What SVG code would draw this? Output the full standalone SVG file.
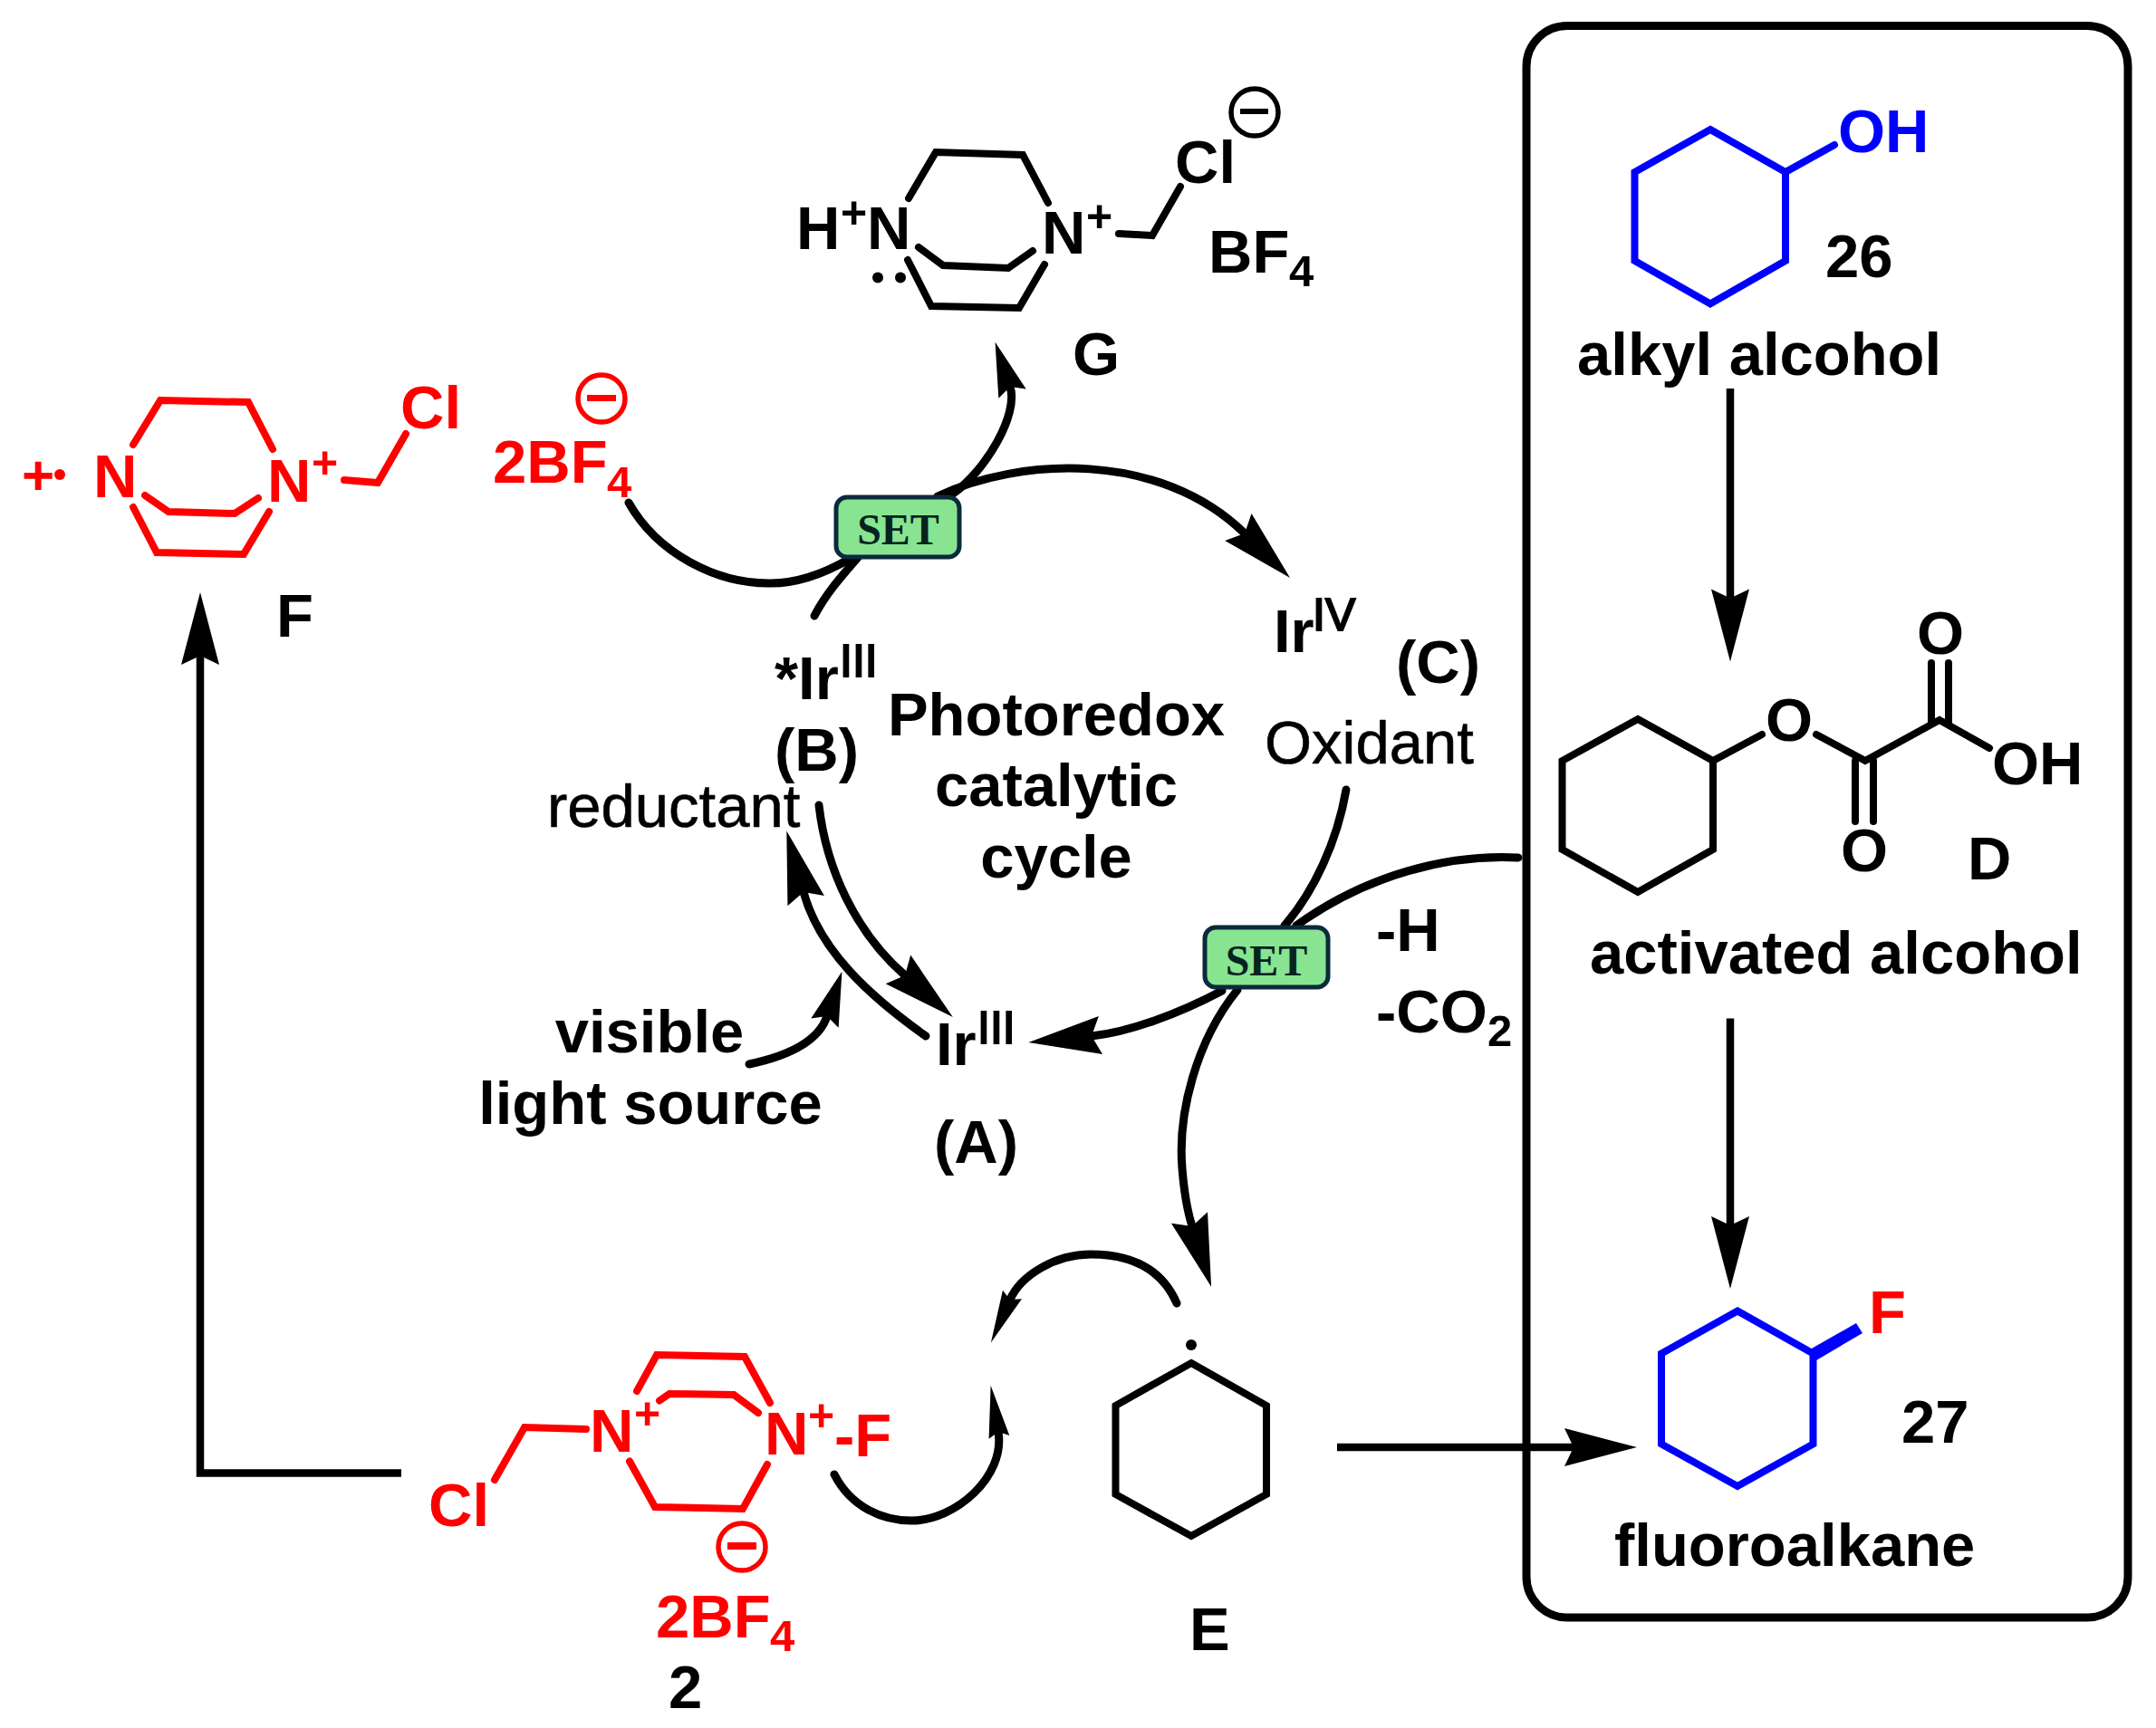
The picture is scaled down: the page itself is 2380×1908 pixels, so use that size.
<svg xmlns="http://www.w3.org/2000/svg" width="2380" height="1908" viewBox="0 0 2380 1908">
<style>
text{font-family:"Liberation Sans",Arial,sans-serif}
.b{font-weight:700;font-size:67px}
.l{font-weight:700;font-size:67px}
.r{font-weight:400;font-size:67px;stroke:#000;stroke-width:.6px}
.sub{font-weight:700;font-size:49px}
.sup{font-weight:700;font-size:50px}
.ox{font-weight:400;font-size:50px;stroke:#000;stroke-width:2px}
.set{font-family:"Liberation Serif","Times New Roman",serif;font-weight:700;font-size:48px;fill:#05231f;text-anchor:middle}
.red{fill:#ff0000}
.blue{fill:#0000ff}
.bond{fill:none;stroke:#000;stroke-width:8;stroke-linecap:round;stroke-linejoin:miter}
.bond.rd{stroke:#ff0000}
.bond.bl{stroke:#0000ff}
.ring{fill:none;stroke:#000;stroke-width:8;stroke-linejoin:miter}
.ring.bl{stroke:#0000ff}
.curve{fill:none;stroke:#000;stroke-width:9;stroke-linecap:round}
.line{fill:none;stroke:#000;stroke-width:8.5}
.setbox{fill:#88e490;stroke:#0b2a3b;stroke-width:5}
.chg{fill:none;stroke-width:5.5}
</style>
<defs>
<marker id="large" markerUnits="userSpaceOnUse" markerWidth="80" markerHeight="42" refX="10" refY="21" orient="auto" overflow="visible"><path d="M0,0 L80,21 L0,42 L10,21Z" fill="#000"/></marker>
<marker id="medium" markerUnits="userSpaceOnUse" markerWidth="60" markerHeight="32" refX="8" refY="16" orient="auto" overflow="visible"><path d="M0,0 L60,16 L0,32 L8,16Z" fill="#000"/></marker>
<marker id="small" markerUnits="userSpaceOnUse" markerWidth="58" markerHeight="23" refX="6" refY="11.5" orient="auto" overflow="visible"><path d="M0,0 L58,11.5 L0,23 L6,11.5Z" fill="#000"/></marker>
</defs>
<rect width="2380" height="1908" fill="#fff"/>

<g id="connectors">
<path class="line" d="M443,1626.5 L221,1626.5 L221,724" marker-end="url(#large)"/>
<path class="line" d="M1910,429 L1910,660.6" marker-end="url(#large)"/>
<path class="line" d="M1910,1124.5 L1910,1353" marker-end="url(#large)"/>
<path class="line" d="M1476,1598 L1737,1598" marker-end="url(#large)"/>
<path class="curve" d="M694,555 C725,610 790,645 851,644 C880,644 912,632 938,617"/>
<path class="curve" d="M899,680 C912,655 930,635 950,612"/>
<path class="curve" d="M1052,545 C1088,520 1125,457 1115,427" marker-end="url(#medium)"/>
<path class="curve" d="M1035,548 C1125,505 1280,497 1374,589" marker-end="url(#large)"/>
<path class="curve" d="M904,889 C912,960 945,1030 999,1077" marker-end="url(#large)"/>
<path class="curve" d="M1022,1144 C960,1100 905,1050 887,985" marker-end="url(#large)"/>
<path class="curve" d="M827,1175 C865,1167 903,1152 913,1122" marker-end="url(#medium)"/>
<path class="curve" d="M1486,872 C1476,930 1450,985 1418,1022"/>
<path class="curve" d="M1676,947 C1600,943 1510,965 1431,1022"/>
<path class="curve" d="M1349,1094 C1300,1120 1245,1140 1205,1144" marker-end="url(#large)"/>
<path class="curve" d="M1366,1093 C1320,1150 1300,1230 1305,1290 C1307,1315 1310,1335 1316,1354" marker-end="url(#large)"/>
<path class="curve" d="M1299,1439 C1280,1395 1240,1385 1204,1385 C1165,1385 1127,1408 1115,1435" marker-end="url(#small)"/>
<path class="curve" d="M921,1628 C940,1665 975,1679 1006,1679 C1055,1679 1110,1630 1102,1581" marker-end="url(#small)"/>
</g>

<g id="box-outer"><rect x="1685" y="28.5" width="664" height="1757.5" rx="45" ry="45" fill="none" stroke="#000" stroke-width="9"/></g>

<g id="set-1"><rect class="setbox" x="923" y="549" width="136" height="66" rx="12"/><text class="set" x="991.5" y="601">SET</text></g>
<g id="set-2"><rect class="setbox" x="1330" y="1024" width="136" height="66" rx="12"/><text class="set" x="1398" y="1077">SET</text></g>

<g id="node-F">
<text class="red" font-weight="700" font-size="62" x="24" y="546">+</text>
<circle cx="66" cy="524" r="6" fill="#ff0000"/>
<path class="bond rd" d="M147,491 L177,442 L274,444 L301,496"/>
<path class="bond rd" d="M160,547 L186,565 L259,567 L285,550"/>
<path class="bond rd" d="M147,560 L173,610 L269,612 L297,565"/>
<path class="bond rd" d="M380,530 L417,533 L448,479"/>
<text class="b red" x="103" y="549">N</text>
<text class="b red" x="295" y="554">N<tspan class="sup" x="344" y="528">+</tspan></text>
<text class="b red" x="442" y="473">Cl</text>
<ellipse class="chg" stroke="#ff0000" cx="664" cy="440" rx="26" ry="26"/>
<rect x="648" y="436" width="32" height="7" fill="#ff0000"/>
<text class="b red" x="544" y="533">2BF<tspan class="sub" x="670" y="549">4</tspan></text>
<text class="b" x="305" y="703">F</text>
</g>

<g id="node-G">
<path class="bond" d="M1003,219 L1033,168 L1129,171 L1157,224"/>
<path class="bond" d="M1014,273 L1041,293 L1113,296 L1140,277"/>
<path class="bond" d="M1002,287 L1028,338 L1125,340 L1153,292"/>
<path class="bond" d="M1235,258 L1272,260 L1303,206"/>
<text class="b" x="879" y="275">H<tspan class="sup" x="928" y="252">+</tspan><tspan x="957" y="275">N</tspan></text>
<text class="b" x="1150" y="280">N<tspan class="sup" x="1199" y="256">+</tspan></text>
<text class="b" x="1297" y="202">Cl</text>
<ellipse class="chg" stroke="#000" cx="1385" cy="124" rx="26" ry="26"/>
<rect x="1369" y="120" width="31" height="6" fill="#000"/>
<text class="b" x="1334" y="301">BF<tspan class="sub" x="1423" y="316">4</tspan></text>
<circle cx="969" cy="306.5" r="6"/>
<circle cx="994" cy="306.5" r="6"/>
<text class="b" x="1184" y="414">G</text>
</g>

<g id="node-B">
<text class="b" x="855" y="772">*Ir<tspan class="ox" x="927" y="747">III</tspan></text>
<text class="b" x="855" y="851">(B)</text>
</g>
<g id="node-reductant"><text class="r" x="604" y="913">reductant</text></g>
<g id="node-cycle">
<text class="l" x="1166" y="812" text-anchor="middle">Photoredox</text>
<text class="l" x="1166" y="890" text-anchor="middle">catalytic</text>
<text class="l" x="1166" y="969" text-anchor="middle">cycle</text>
</g>
<g id="node-C">
<text class="b" x="1406" y="720">Ir<tspan class="ox" x="1449" y="696">IV</tspan></text>
<text class="b" x="1541" y="754">(C)</text>
</g>
<g id="node-oxidant"><text class="r" x="1396" y="843">Oxidant</text></g>
<g id="node-loss">
<text class="b" x="1519" y="1050">-H</text>
<text class="b" x="1519" y="1140">-CO<tspan class="sub" x="1642" y="1155">2</tspan></text>
</g>
<g id="node-A">
<text class="b" x="1033" y="1176">Ir<tspan class="ox" x="1079" y="1152">III</tspan></text>
<text class="b" x="1031" y="1284">(A)</text>
</g>
<g id="node-light">
<text class="b" x="717" y="1162" text-anchor="middle">visible</text>
<text class="b" x="718" y="1241" text-anchor="middle">light source</text>
</g>

<g id="node-2">
<path class="bond rd" d="M546,1634 L579,1576 L647,1578"/>
<path class="bond rd" d="M703,1536 L725,1496 L822,1498 L850,1549"/>
<path class="bond rd" d="M728,1546.5 L739,1539 L810,1540 L837,1560"/>
<path class="bond rd" d="M695,1613.5 L723,1664 L820,1666 L847,1617"/>
<text class="b red" x="473" y="1685">Cl</text>
<text class="b red" x="651" y="1603">N<tspan class="sup" x="700" y="1578">+</tspan></text>
<text class="b red" x="844" y="1606">N<tspan class="sup" x="892" y="1580">+</tspan><tspan x="921" y="1608">-F</tspan></text>
<ellipse class="chg" stroke="#ff0000" cx="819" cy="1708" rx="26" ry="26"/>
<rect x="803" y="1703" width="32" height="8" fill="#ff0000"/>
<text class="b red" x="724" y="1808">2BF<tspan class="sub" x="850" y="1823">4</tspan></text>
<text class="b" x="738" y="1886">2</text>
</g>

<g id="node-E">
<circle cx="1315" cy="1485" r="6"/>
<polygon class="ring" points="1315,1505 1398,1552 1398,1650 1315,1696 1231.5,1650 1231.5,1552"/>
<text class="b" x="1313" y="1822">E</text>
</g>

<g id="node-26">
<polygon class="ring bl" points="1888,143 1971,190 1971,288 1888,335.5 1804.5,288 1804.5,190"/>
<path class="bond bl" d="M1971,190 L2025,160"/>
<text class="b blue" x="2029" y="168">OH</text>
<text class="b" x="2015" y="306">26</text>
<text class="l" x="1741" y="414">alkyl alcohol</text>
</g>

<g id="node-D">
<polygon class="ring" points="1808,794 1891,840 1891,938 1808,985 1724.5,938 1724.5,840"/>
<path class="bond" d="M1891,840 L1945,811"/>
<path class="bond" d="M2005,811 L2059,840 L2141,795 L2196,826"/>
<path class="bond" d="M2132,732 L2132,798"/>
<path class="bond" d="M2151,732 L2151,798"/>
<path class="bond" d="M2048,840 L2048,907"/>
<path class="bond" d="M2068,840 L2068,907"/>
<text class="b" x="1949" y="818">O</text>
<text class="b" x="2116" y="722">O</text>
<text class="b" x="2032" y="962">O</text>
<text class="b" x="2199" y="866">OH</text>
<text class="b" x="2172" y="971">D</text>
<text class="l" x="1755" y="1075">activated alcohol</text>
</g>

<g id="node-27">
<polygon class="ring bl" points="1918,1447.5 2001.5,1494.5 2001.5,1594.5 1918,1641 1834,1594.5 1834,1494.5"/>
<polygon points="1998,1490 2049,1461 2056,1472 2005,1502" fill="#0000ff"/>
<text class="b red" x="2063" y="1472">F</text>
<text class="b" x="2099" y="1593">27</text>
<text class="l" x="1782" y="1729">fluoroalkane</text>
</g>
</svg>
